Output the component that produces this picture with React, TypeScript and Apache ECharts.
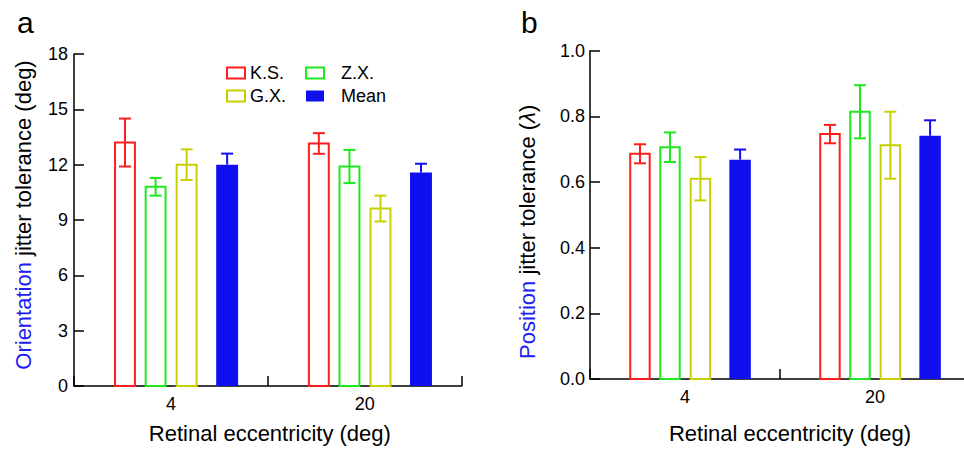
import React, { useEffect, useRef } from "react";
import * as echarts from "echarts";

const categories = ["4", "20"];
const subjects = ["K.S.", "Z.X.", "G.X.", "Mean"];
const colors = ["#ff1c1c", "#1ee81e", "#c8d000", "#0f0ff0"];
const offsets = [-0.237, -0.079, 0.081, 0.29];

// Orientation jitter tolerance (deg): values and error half-lengths
const oriKS = [13.2, 13.15];
const oriKSErr = [1.3, 0.56];
const oriZX = [10.8, 11.9];
const oriZXErr = [0.48, 0.9];
const oriGX = [12.0, 9.62];
const oriGXErr = [0.83, 0.7];
const oriMean = [12.0, 11.58];
const oriMeanErr = [0.6, 0.47];

// Position jitter tolerance (lambda)
const posKS = [0.686, 0.746];
const posKSErr = [0.029, 0.028];
const posZX = [0.706, 0.814];
const posZXErr = [0.045, 0.081];
const posGX = [0.61, 0.712];
const posGXErr = [0.066, 0.102];
const posMean = [0.668, 0.741];
const posMeanErr = [0.031, 0.047];

const oriTicks = [0, 3, 6, 9, 12, 15, 18];
const posTicks = [0, 0.2, 0.4, 0.6, 0.8, 1.0];

const FONT = "Liberation Sans, Arial, Helvetica, sans-serif";

function makeSeries(
  name: string,
  idx: number,
  vals: number[],
  errs: number[],
  axisIndex: number
) {
  const color = colors[idx];
  const isMean = name === "Mean";
  return {
    type: "custom",
    name,
    xAxisIndex: axisIndex,
    yAxisIndex: axisIndex,
    itemStyle: { color },
    data: vals.map((v, i) => [i, v, errs[i]]),
    renderItem: (params: any, api: any) => {
      const cat = api.value(0);
      const v = api.value(1);
      const e = api.value(2);
      const band = api.size([1, 0])[0];
      const base = api.coord([cat, 0]);
      const topP = api.coord([cat, v]);
      const cx = base[0] + offsets[idx] * band;
      const w = band * 0.113;
      const children: any[] = [];
      if (isMean) {
        children.push({
          type: "rect",
          shape: { x: cx - w / 2, y: topP[1], width: w, height: base[1] - topP[1] },
          style: { fill: color, stroke: "none" },
        });
      } else {
        children.push({
          type: "rect",
          shape: { x: cx - w / 2 + 1, y: topP[1], width: w - 2, height: base[1] - topP[1] },
          style: { fill: "none", stroke: color, lineWidth: 2 },
        });
      }
      const hi = api.coord([cat, v + e])[1];
      const lo = isMean ? topP[1] : api.coord([cat, v - e])[1];
      const cap = 6;
      children.push({
        type: "line",
        shape: { x1: cx, y1: hi, x2: cx, y2: lo },
        style: { stroke: color, lineWidth: 2 },
      });
      children.push({
        type: "line",
        shape: { x1: cx - cap, y1: hi, x2: cx + cap, y2: hi },
        style: { stroke: color, lineWidth: 2 },
      });
      if (!isMean) {
        children.push({
          type: "line",
          shape: { x1: cx - cap, y1: lo, x2: cx + cap, y2: lo },
          style: { stroke: color, lineWidth: 2 },
        });
      }
      return { type: "group", children };
    },
  };
}

function legendItem(name: string) {
  const i = subjects.indexOf(name);
  const isMean = name === "Mean";
  return {
    name,
    icon: "rect",
    itemStyle: isMean
      ? { color: colors[i], borderWidth: 0 }
      : { color: "rgba(0,0,0,0)", borderColor: colors[i], borderWidth: 2 },
  };
}

export default function App() {
  const ref = useRef<HTMLDivElement>(null);
  useEffect(() => {
    if (!ref.current) return;
    const chart = echarts.init(ref.current, null, { renderer: "svg" });
    const axisLine = { show: true, lineStyle: { color: "#000", width: 1.5 } };
    const xAxisCommon = {
      type: "category",
      data: categories,
      boundaryGap: true,
      axisLine,
      axisTick: { show: true, inside: true, length: 10, lineStyle: { color: "#000", width: 1.5 } },
      axisLabel: { color: "#000", fontSize: 18, fontFamily: FONT, margin: 9 },
      name: "Retinal eccentricity (deg)",
      nameLocation: "middle",
      splitLine: { show: false },
    };
    const yAxisCommon = {
      type: "value",
      axisLine,
      axisTick: { show: true, inside: true, length: 10, lineStyle: { color: "#000", width: 1.5 } },
      splitLine: { show: false },
      nameLocation: "middle",
      nameRotate: 90,
    };
    const titleStyle = { fontSize: 30, fontWeight: "normal", color: "#000", fontFamily: FONT };
    const legendText = { fontSize: 18, color: "#000", fontFamily: FONT };
    const option: any = {
      animation: false,
      backgroundColor: "#fff",
      textStyle: { fontFamily: FONT },
      title: [
        { text: "a", left: 12, top: 2, textStyle: titleStyle },
        { text: "b", left: 516, top: 2, textStyle: titleStyle },
      ],
      legend: [
        {
          orient: "vertical",
          left: 221,
          top: 59,
          itemWidth: 18,
          itemHeight: 11,
          itemGap: 5,
          selectedMode: false,
          textStyle: { ...legendText, padding: [0, 0, 0, 0] },
          data: [legendItem("K.S."), legendItem("G.X.")],
        },
        {
          orient: "vertical",
          left: 300,
          top: 59,
          itemWidth: 18,
          itemHeight: 11,
          itemGap: 5,
          selectedMode: false,
          textStyle: { ...legendText, padding: [0, 0, 0, 12] },
          data: [legendItem("Z.X."), legendItem("Mean")],
        },
      ],
      grid: [
        { left: 74, right: 980 - 461.7, top: 54, bottom: 449 - 386.7, containLabel: false },
        { left: 590, right: 10, top: 50.7, bottom: 449 - 382.3, containLabel: false },
      ],
      xAxis: [
        {
          ...xAxisCommon,
          gridIndex: 0,
          nameGap: 36,
          nameTextStyle: { color: "#000", fontSize: 22, fontFamily: FONT, padding: [0, 0, 0, 4] },
        },
        {
          ...xAxisCommon,
          gridIndex: 1,
          nameGap: 43,
          nameTextStyle: { color: "#000", fontSize: 22, fontFamily: FONT, padding: [0, 0, 0, 20] },
        },
      ],
      yAxis: [
        {
          ...yAxisCommon,
          gridIndex: 0,
          min: oriTicks[0],
          max: oriTicks[oriTicks.length - 1],
          interval: oriTicks[1] - oriTicks[0],
          axisLabel: { color: "#000", fontSize: 18, fontFamily: FONT, margin: 6 },
          name: "{b|Orientation} jitter tolerance (deg)",
          nameGap: 40,
          nameTextStyle: {
            color: "#000",
            fontSize: 22,
            fontFamily: FONT,
            padding: [0, 0, 0, 10],
            rich: { b: { color: "#2020f0", fontSize: 22, fontFamily: FONT } },
          },
        },
        {
          ...yAxisCommon,
          gridIndex: 1,
          min: posTicks[0],
          max: posTicks[posTicks.length - 1],
          interval: 0.2,
          axisLabel: {
            color: "#000",
            fontSize: 18,
            fontFamily: FONT,
            margin: 5,
            formatter: (v: number) => v.toFixed(1),
          },
          name: "{b|Position} jitter tolerance ({i|λ})",
          nameGap: 52,
          nameTextStyle: {
            color: "#000",
            fontSize: 22,
            fontFamily: FONT,
            padding: [0, 34, 0, 0],
            rich: {
              b: { color: "#2020f0", fontSize: 22, fontFamily: FONT },
              i: { color: "#000", fontSize: 22, fontStyle: "italic", fontFamily: FONT },
            },
          },
        },
      ],
      series: [
        makeSeries("K.S.", 0, oriKS, oriKSErr, 0),
        makeSeries("Z.X.", 1, oriZX, oriZXErr, 0),
        makeSeries("G.X.", 2, oriGX, oriGXErr, 0),
        makeSeries("Mean", 3, oriMean, oriMeanErr, 0),
        makeSeries("K.S.", 0, posKS, posKSErr, 1),
        makeSeries("Z.X.", 1, posZX, posZXErr, 1),
        makeSeries("G.X.", 2, posGX, posGXErr, 1),
        makeSeries("Mean", 3, posMean, posMeanErr, 1),
      ],
    };
    chart.setOption(option);
    return () => chart.dispose();
  }, []);
  return (
    <div
      style={{
        position: "absolute",
        left: 0,
        top: 0,
        width: 964,
        height: 449,
        overflow: "hidden",
        background: "#fff",
      }}
    >
      <div ref={ref} style={{ width: 980, height: 449 }} />
    </div>
  );
}
